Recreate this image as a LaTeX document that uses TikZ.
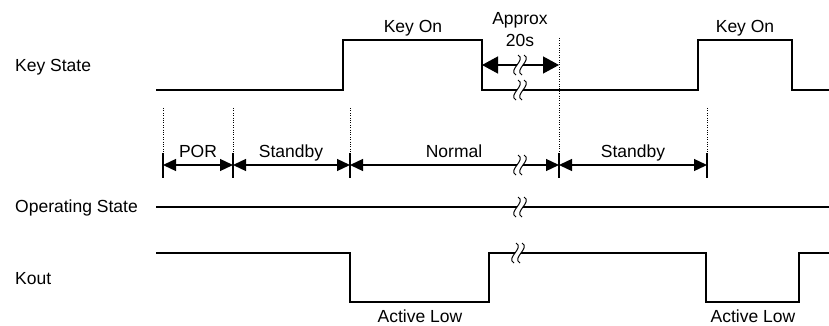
\documentclass[tikz,border=0pt]{standalone}
\usepackage{fontspec}
\setmainfont{Liberation Sans}
\usetikzlibrary{arrows.meta}
\tikzset{
  sig/.style={line width=1.3pt, line join=miter},
  dotguide/.style={line width=0.8pt, dash pattern=on 0.8pt off 1.6pt},
  tickbar/.style={line width=1.2pt},
  spanarrow/.style={line width=1.3pt, {Triangle[length=13pt,width=12pt]}-{Triangle[length=13pt,width=12pt]}},
  bigarrow/.style={line width=1.3pt, {Triangle[length=16pt,width=17pt]}-{Triangle[length=16pt,width=17pt]}},
  lbl/.style={anchor=base, inner sep=0pt, font=\fontsize{17.5}{21}\selectfont},
  sidelbl/.style={lbl, anchor=base west},
}
\newcommand{\wavebreak}[1]{%
  \begin{scope}[shift={(#1)}]
    \fill[white] (-2,-10) .. controls (7,-5) and (-13,5) .. (-4,10) -- (2,10) .. controls (-7,5) and (13,-5) .. (4,-10) -- cycle;
    \draw[line width=1pt] (-2,-10) .. controls (7,-5) and (-13,5) .. (-4,10);
    \draw[line width=1pt] (4,-10) .. controls (13,-5) and (-7,5) .. (2,10);
  \end{scope}}

\begin{document}
\begin{tikzpicture}[x=1pt, y=-1pt]
  \useasboundingbox (0,0) rectangle (829,326);

  \node[sidelbl] (keystate) at (15,72) {Key State};
  \node[sidelbl] (opstate) at (15,212) {Operating State};
  \node[sidelbl] (kout) at (15,284) {Kout};

  \draw[sig] (156,90) -- (343,90) -- (343,40) -- (482,40) -- (482,90) -- (698,90) -- (698,40) -- (792,40) -- (792,90) -- (829,90);
  \node[lbl] (keyon1) at (413,33) {Key On};
  \node[lbl] (keyon2) at (745,33) {Key On};

  \foreach \n/\x/\top in {0/163/108, 1/233/108, 2/350/108, 3/559/38, 4/707/108} {
    \coordinate (t\n) at (\x,165);
    \draw[dotguide] (\x,\top) -- (\x,153);
    \draw[tickbar] (\x,153) -- (\x,178);
  }

  \coordinate (keyfall) at (482,65);
  \coordinate (keywait) at (559,65);
  \draw[bigarrow] (keyfall) -- (keywait);
  \node[lbl] (approx) at (520,25) {Approx};
  \node[lbl] (twentys) at (520,47) {20s};
  \wavebreak{520,65}
  \wavebreak{520,90}

  \draw[spanarrow] (t0) -- (t1);
  \draw[spanarrow] (t1) -- (t2);
  \draw[spanarrow] (t2) -- (t3);
  \draw[spanarrow] (t3) -- (t4);
  \node[lbl] (por) at (198,157) {POR};
  \node[lbl] (standby1) at (291,157) {Standby};
  \node[lbl] (normal) at (454,157) {Normal};
  \node[lbl] (standby2) at (633,157) {Standby};
  \wavebreak{520,165}

  \draw[sig] (156,207) -- (829,207);
  \wavebreak{520,207}

  \draw[sig] (156,253) -- (350,253) -- (350,302) -- (489,302) -- (489,253) -- (706,253) -- (706,302) -- (799,302) -- (799,253) -- (829,253);
  \node[lbl] (activelow1) at (420,322) {Active Low};
  \node[lbl] (activelow2) at (753,322) {Active Low};
  \wavebreak{518,253}
\end{tikzpicture}
\end{document}
